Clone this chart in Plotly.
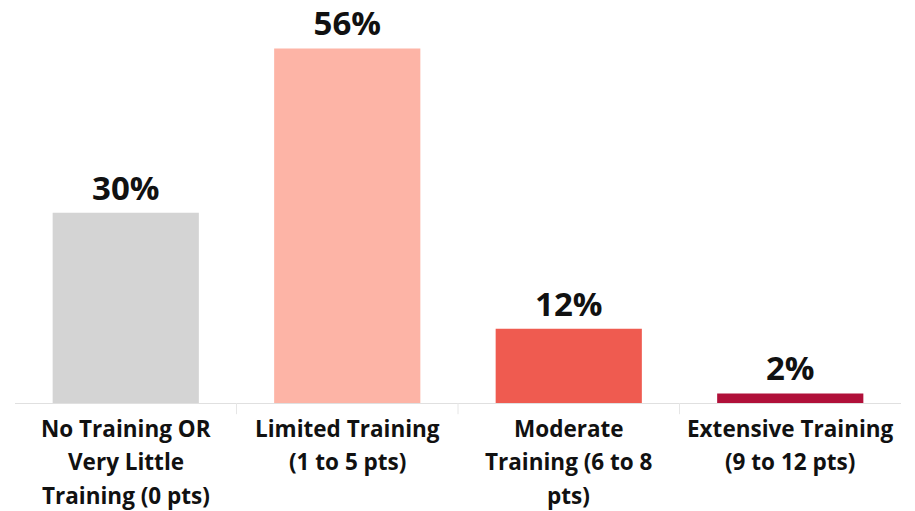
import plotly.graph_objects as go

categories = ["No Training OR Very Little Training (0 pts)",
              "Limited Training (1 to 5 pts)",
              "Moderate Training (6 to 8 pts)",
              "Extensive Training (9 to 12 pts)"]
label_lines = [["No Training OR", "Very Little", "Training (0 pts)"],
               ["Limited Training", "(1 to 5 pts)"],
               ["Moderate", "Training (6 to 8", "pts)"],
               ["Extensive Training", "(9 to 12 pts)"]]
values = [30.0, 55.9, 11.7, 1.5]
value_labels = ["30%", "56%", "12%", "2%"]
colors = ["#d4d4d4", "#fdb4a6", "#ef5b50", "#b01039"]

FONT = "Open Sans"
TXT = "#111111"

fig = go.Figure(go.Bar(
    x=categories, y=values, marker_color=colors, marker_line_width=0,
    width=0.66,
    text=value_labels, textposition="outside",
    textfont=dict(family=FONT, size=33, color=TXT, weight="bold"),
    cliponaxis=False, hoverinfo="skip",
))

for cat, lines in zip(categories, label_lines):
    for i, line in enumerate(lines):
        fig.add_annotation(
            x=cat, y=0, xref="x", yref="y", text=line, showarrow=False,
            yanchor="middle", yshift=-25 - 33.5 * i,
            font=dict(family=FONT, size=22.5, color=TXT, weight="bold"),
        )

fig.update_layout(
    width=907, height=503,
    margin=dict(l=7, r=14, t=22, b=108),
    paper_bgcolor="white", plot_bgcolor="white",
    showlegend=False,
    xaxis=dict(showticklabels=False, showgrid=False, zeroline=False,
               showline=True, linecolor="#e0e0e0", linewidth=1,
               ticks="", range=[-0.5, 3.5]),
    yaxis=dict(visible=False, range=[0, 58.8]),
    bargap=0.34,
)
for k in [0.5, 1.5, 2.5]:
    fig.add_shape(type="line", xref="x", yref="paper", x0=k, x1=k, y0=0, y1=-0.03,
                  line=dict(color="#e6e6e6", width=1))

fig.write_html("out.html")
